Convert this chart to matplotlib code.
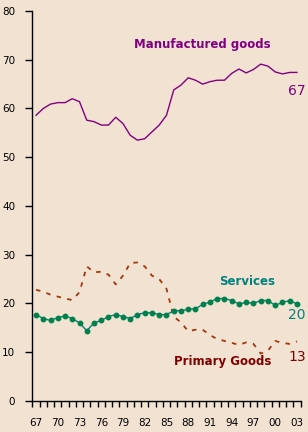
import matplotlib
matplotlib.use("Agg")
import matplotlib.pyplot as plt
import numpy as np

years = list(range(1967, 2004))
manufactured = [58.6, 60.0, 60.9, 61.2, 61.2, 62.0, 61.4, 57.6, 57.3, 56.6,
                56.6, 58.2, 56.9, 54.5, 53.5, 53.8, 55.2, 56.6, 58.6, 63.8,
                64.8, 66.3, 65.8, 65.0, 65.5, 65.8, 65.8, 67.2, 68.1, 67.3,
                68.0, 69.1, 68.7, 67.5, 67.1, 67.4, 67.4]
services = [17.7, 16.9, 16.5, 17.1, 17.4, 16.9, 16.0, 14.4, 16.0, 16.5,
            17.3, 17.7, 17.3, 16.9, 17.7, 18.1, 18.1, 17.7, 17.7, 18.5,
            18.5, 18.8, 18.9, 19.8, 20.3, 21.0, 21.0, 20.6, 19.9, 20.2,
            20.0, 20.6, 20.6, 19.6, 20.2, 20.6, 19.9]
primary = [22.8, 22.4, 21.8, 21.4, 21.0, 20.7, 22.3, 27.6, 26.4, 26.5,
           25.9, 23.9, 25.7, 28.3, 28.4, 27.6, 25.7, 25.0, 23.0, 17.3,
           16.1, 14.3, 14.6, 14.6, 13.5, 12.7, 12.3, 11.9, 11.5, 12.0,
           11.7, 9.7, 10.3, 12.3, 11.9, 11.7, 12.2]
tick_years = list(range(1967, 2004, 3))
tick_labels = [f"{y % 100:02d}" for y in tick_years]
y_ticks = [0, 10, 20, 30, 40, 50, 60, 70, 80]

bg = "#F2E2D2"
purple = "#800080"
teal = "#008080"
darkred = "#800000"

fig = plt.figure(figsize=(3.08, 4.32), dpi=100, facecolor=bg)
ax = fig.add_axes([0.104, 0.072, 0.873, 0.9025], facecolor=bg)

ax.plot(years, manufactured, color=purple, lw=1.0)
ax.plot(years, primary, color="#A3360A", lw=1.3, linestyle=(0, (2.5, 3.5)))
ax.plot(years, services, color=teal, lw=1.0, marker="o", markersize=3.2,
        markerfacecolor="#00804A", markeredgecolor="#00804A")

ax.set_xlim(1966.45, 2003.55)
ax.set_ylim(0, 80)
ax.set_yticks(y_ticks)
ax.set_yticklabels([str(v) for v in y_ticks])
ax.set_xticks(np.arange(1966.5, 2004.0, 1.0))
ax.set_xticklabels([])
ax.set_xticks(tick_years, minor=True)
ax.set_xticklabels(tick_labels, minor=True)
ax.tick_params(axis="x", which="minor", length=0, pad=12, labelsize=7.5)
ax.tick_params(axis="x", which="major", length=4, width=1, direction="out")
ax.tick_params(axis="y", length=5, width=1, direction="out", pad=7, labelsize=7.5)

for s in ["top", "right"]:
    ax.spines[s].set_visible(False)
for s in ["left", "bottom"]:
    ax.spines[s].set_linewidth(1.0)
    ax.spines[s].set_color("black")

ax.text(1989.9, 73.2, "Manufactured goods", color=purple, fontsize=8.5,
        fontweight="bold", ha="center", va="center")
ax.text(2003.0, 63.5, "67", color=purple, fontsize=10, ha="center", va="center")
ax.text(1996.1, 24.5, "Services", color=teal, fontsize=8.5,
        fontweight="bold", ha="center", va="center")
ax.text(2003.0, 17.6, "20", color=teal, fontsize=10, ha="center", va="center")
ax.text(1992.8, 8.0, "Primary Goods", color=darkred, fontsize=8.5,
        fontweight="bold", ha="center", va="center")
ax.text(2003.0, 9.0, "13", color=darkred, fontsize=10, ha="center", va="center")

fig.savefig("out.png", dpi=100, facecolor=bg)
